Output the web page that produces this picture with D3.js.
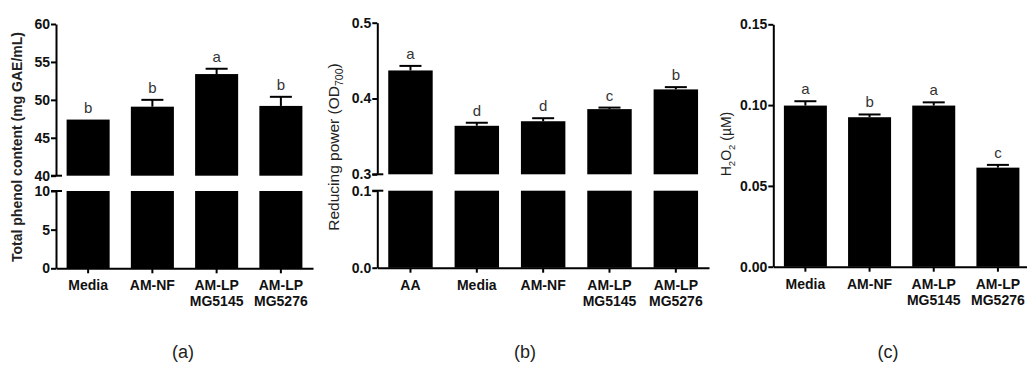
<!DOCTYPE html>
<html>
<head>
<meta charset="utf-8">
<script src="https://cdn.jsdelivr.net/npm/d3@7"></script>
<style>
  body { margin: 0; background: #fff; }
  svg { font-family: "Liberation Sans", Arial, sans-serif; }
</style>
</head>
<body>
<div id="chart"></div>
<script>
// panel (a) total phenol
const catsA = ["Media", "AM-NF", "AM-LP\nMG5145", "AM-LP\nMG5276"];
const phenol = [47.4, 49.1, 53.4, 49.2];
const phenolErr = [0, 0.9, 0.7, 1.2];
const phenolLetters = ["b", "b", "a", "b"];
const ticksAUpper = [40, 45, 50, 55, 60];
const ticksALower = [0, 5, 10];

// panel (b) reducing power
const catsB = ["AA", "Media", "AM-NF", "AM-LP\nMG5145", "AM-LP\nMG5276"];
const reducing = [0.437, 0.364, 0.370, 0.386, 0.412];
const reducingErr = [0.006, 0.004, 0.004, 0.002, 0.003];
const reducingLetters = ["a", "d", "d", "c", "b"];
const ticksBUpper = [0.3, 0.4, 0.5];
const ticksBLower = [0.0, 0.1];

// panel (c) H2O2
const catsC = ["Media", "AM-NF", "AM-LP\nMG5145", "AM-LP\nMG5276"];
const h2o2 = [0.0997, 0.0925, 0.0997, 0.0613];
const h2o2Err = [0.0027, 0.0017, 0.002, 0.0017];
const h2o2Letters = ["a", "b", "a", "c"];
const ticksC = [0, 0.05, 0.10, 0.15];

const panelLabels = ["(a)", "(b)", "(c)"];

const svg = d3.select("#chart").append("svg")
    .attr("width", 1027)
    .attr("height", 372);

function drawPanel(p) {
    const g = svg.append("g");
    const x = d3.scaleBand()
        .domain(p.cats)
        .range(p.xRange)
        .paddingInner(0.33)
        .paddingOuter(0.165);

    const segs = p.segments.map(s => ({
        ...s,
        y: d3.scaleLinear().domain(s.domain).range(s.range)
    }));

    // bars, one piece per axis segment
    segs.forEach(s => {
        g.append("g").selectAll("rect")
            .data(p.values)
            .enter().append("rect")
                .attr("x", (d, i) => x(p.cats[i]))
                .attr("width", x.bandwidth())
                .attr("y", d => s.y(Math.min(d, s.domain[1])))
                .attr("height", d => d > s.domain[0] ? s.y(s.domain[0]) - s.y(Math.min(d, s.domain[1])) : 0)
                .attr("fill", "#000");
    });

    const top = segs[segs.length - 1];

    // error bars
    const eb = g.append("g").attr("stroke", "#000").attr("stroke-width", 2);
    p.values.forEach((d, i) => {
        if (!p.errs[i]) return;
        const cx = x(p.cats[i]) + x.bandwidth() / 2;
        eb.append("line")
            .attr("x1", cx).attr("x2", cx)
            .attr("y1", top.y(d)).attr("y2", top.y(d + p.errs[i]));
        eb.append("line")
            .attr("x1", cx - 11).attr("x2", cx + 11)
            .attr("y1", top.y(d + p.errs[i])).attr("y2", top.y(d + p.errs[i]));
    });

    // significance letters
    g.append("g").selectAll("text")
        .data(p.letters)
        .enter().append("text")
            .attr("x", (d, i) => x(p.cats[i]) + x.bandwidth() / 2)
            .attr("y", (d, i) => top.y(p.values[i] + p.errs[i]) - 7)
            .attr("text-anchor", "middle")
            .attr("font-size", 15)
            .attr("fill", "#333")
            .text(d => d);

    // y axis segments
    const x0 = p.xRange[0];
    segs.forEach((s, k) => {
        const ax = g.append("g")
            .attr("transform", `translate(${x0},0)`)
            .call(d3.axisLeft(s.y).tickValues(s.ticks).tickSize(5).tickSizeOuter(0).tickFormat(p.fmt));
        ax.select(".domain").attr("stroke-width", 2);
        ax.selectAll(".tick line").attr("stroke-width", 2);
        ax.selectAll(".tick text")
            .attr("font-size", 14)
            .attr("font-weight", "bold")
            .attr("fill", "#111")
            .attr("x", -6);
        if (segs.length > 1) {
            // break caps
            const v = k === 0 ? s.domain[1] : s.domain[0];
            g.append("line")
                .attr("x1", x0 - 5).attr("x2", x0 + 6)
                .attr("y1", s.y(v)).attr("y2", s.y(v))
                .attr("stroke", "#000").attr("stroke-width", 2);
        }
    });

    // x axis
    const base = segs[0].y(segs[0].domain[0]);
    const xa = g.append("g")
        .attr("transform", `translate(0,${base})`)
        .call(d3.axisBottom(x).tickSize(5).tickSizeOuter(0).tickFormat(""));
    xa.select(".domain").attr("stroke-width", 2);
    xa.selectAll(".tick line").attr("stroke-width", 2);

    const lab = g.append("g").selectAll("text")
        .data(p.cats)
        .enter().append("text")
            .attr("x", d => x(d) + x.bandwidth() / 2)
            .attr("y", base + 22)
            .attr("text-anchor", "middle")
            .attr("font-size", 14)
            .attr("font-weight", "bold")
            .attr("fill", "#111");
    lab.each(function(d) {
        const t = d3.select(this);
        d.split("\n").forEach((line, j) => {
            t.append("tspan")
                .attr("x", t.attr("x"))
                .attr("dy", j === 0 ? 0 : 16)
                .text(line);
        });
    });

    // y label
    const yl = g.append("text")
        .attr("transform", `translate(${p.yLabelPos[0]},${p.yLabelPos[1]}) rotate(-90)`)
        .attr("text-anchor", "middle")
        .attr("dominant-baseline", "central")
        .attr("font-size", p.yLabelSize)
        .attr("font-weight", p.yLabelWeight)
        .attr("fill", "#222");
    p.yLabel.forEach(part => {
        const ts = yl.append("tspan").text(part.t);
        if (part.sub) ts.attr("font-size", p.yLabelSize * 0.68).attr("baseline-shift", "sub");
    });

    // panel label
    svg.append("text")
        .attr("x", p.panelX)
        .attr("y", 358)
        .attr("text-anchor", "middle")
        .attr("font-size", 18)
        .attr("fill", "#222")
        .text(p.panel);
}

drawPanel({
    cats: catsA, values: phenol, errs: phenolErr, letters: phenolLetters,
    xRange: [56, 313],
    segments: [
        { domain: [0, 10], range: [268.3, 191], ticks: ticksALower },
        { domain: [40, 60], range: [175.7, 24], ticks: ticksAUpper }
    ],
    fmt: d3.format("d"),
    yLabel: [{ t: "Total phenol content (mg GAE/mL)" }],
    yLabelPos: [17, 147], yLabelSize: 14, yLabelWeight: "bold",
    panel: panelLabels[0], panelX: 183
});

drawPanel({
    cats: catsB, values: reducing, errs: reducingErr, letters: reducingLetters,
    xRange: [377.3, 709],
    segments: [
        { domain: [0, 0.1], range: [267.7, 190.7], ticks: ticksBLower },
        { domain: [0.3, 0.5], range: [174.3, 22.7], ticks: ticksBUpper }
    ],
    fmt: d3.format(".1f"),
    yLabel: [{ t: "Reducing power (OD" }, { t: "700", sub: true }, { t: ")" }],
    yLabelPos: [333, 147], yLabelSize: 15.5, yLabelWeight: "normal",
    panel: panelLabels[1], panelX: 525
});

drawPanel({
    cats: catsC, values: h2o2, errs: h2o2Err, letters: h2o2Letters,
    xRange: [773.3, 1030],
    segments: [
        { domain: [0, 0.15], range: [266.7, 24.3], ticks: ticksC }
    ],
    fmt: d3.format(".2f"),
    yLabel: [{ t: "H" }, { t: "2", sub: true }, { t: "O" }, { t: "2", sub: true }, { t: " (µM)" }],
    yLabelPos: [726, 144], yLabelSize: 14, yLabelWeight: "normal",
    panel: panelLabels[2], panelX: 888
});
</script>
</body>
</html>
